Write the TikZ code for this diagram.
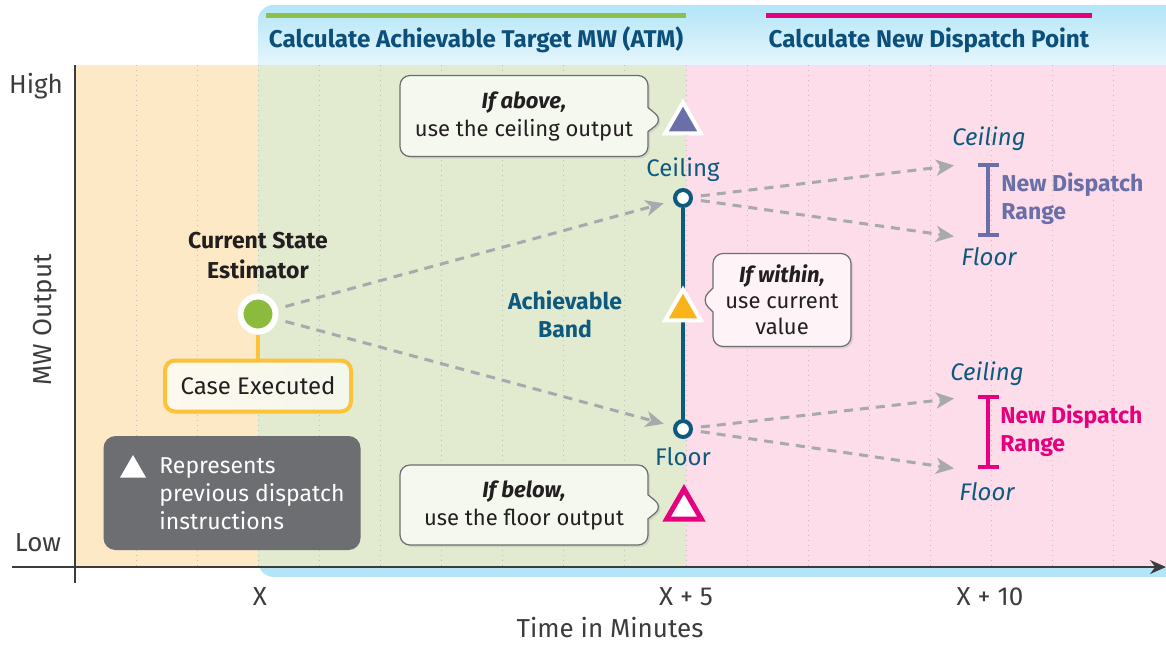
\documentclass[tikz,border=0pt]{standalone}
\usepackage{fontspec}
\setmainfont{Fira Sans}
\usepackage{xcolor}
\usepackage{tikz}
\usetikzlibrary{shapes, shapes.callouts, arrows.meta, positioning, calc, shadows}

\definecolor{headblue}{HTML}{0B4F7A}
\definecolor{skyblue}{HTML}{B3E5F8}
\definecolor{skypale}{HTML}{E6F6FC}
\definecolor{zoneorange}{HTML}{FDE9C5}
\definecolor{zonegreen}{HTML}{E2EBD0}
\definecolor{zonepink}{HTML}{FCDDE9}
\definecolor{bargreen}{HTML}{8DC04A}
\definecolor{dispink}{HTML}{E6007E}
\definecolor{bandblue}{HTML}{0E5A7F}
\definecolor{slate}{HTML}{6B6FA8}
\definecolor{triorange}{HTML}{F9B31B}
\definecolor{csegreen}{HTML}{8CBA3C}
\definecolor{caseorange}{HTML}{FBC23A}
\definecolor{legendgray}{HTML}{6D6E71}
\definecolor{flowgray}{HTML}{A7A9AC}
\definecolor{axisgray}{HTML}{3C3C3C}
\definecolor{textdark}{HTML}{231F20}
\definecolor{calgreen}{HTML}{F5F8EE}
\definecolor{calpink}{HTML}{FEF3F7}

\tikzset{
    base/.style={font=\fontsize{11}{14}\selectfont, align=center, inner sep=0pt, text=textdark},
    header/.style={base, font=\fontsize{12.1}{14}\selectfont\bfseries, text=headblue},
    axislabel/.style={base, font=\fontsize{13}{15}\selectfont, text=axisgray},
    title/.style={base, font=\fontsize{11.5}{15}\selectfont\bfseries},
    callbox/.style={base, rectangle callout, rounded corners=5pt, draw=legendgray, line width=0.6pt, fill=#1, callout pointer width=12pt, drop shadow={opacity=0.2, shadow xshift=1pt, shadow yshift=-1pt}},
    tri/.style={regular polygon, regular polygon sides=3, minimum size=20.5pt, inner sep=0pt, draw=white, line width=2pt, fill=#1, drop shadow={opacity=0.25, shadow xshift=0.8pt, shadow yshift=-0.8pt}},
    keytri/.style={regular polygon, regular polygon sides=3, minimum size=15pt, inner sep=0pt, fill=white},
    cse/.style={circle, fill=csegreen, draw=white, line width=3pt, minimum size=17.5pt, inner sep=0pt, drop shadow={opacity=0.3, shadow xshift=0.8pt, shadow yshift=-0.8pt}},
    casebox/.style={base, font=\fontsize{12}{14}\selectfont, rounded corners=5pt, draw=caseorange, line width=2pt, left color=zoneorange!30!white, right color=zonegreen!40!white, minimum width=93pt, minimum height=25.5pt},
    legendbox/.style={rectangle, rounded corners=6pt, fill=legendgray, minimum width=128.5pt, minimum height=57pt, inner sep=0pt},
    legendtext/.style={base, font=\fontsize{11.5}{14}\selectfont, align=left, text=white},
    endpoint/.style={circle, draw=bandblue, fill=white, line width=2pt, minimum size=8pt, inner sep=0pt},
    bandtag/.style={base, font=\fontsize{12}{14}\selectfont, text=bandblue},
    bandtitle/.style={base, font=\fontsize{11.5}{14}\selectfont\bfseries, text=bandblue},
    flow/.style={draw=flowgray, line width=1.5pt, dash pattern=on 4.5pt off 3.5pt, -{Stealth[length=9pt, width=8pt, inset=2.5pt]}, shorten <=4pt, shorten >=2pt},
    rangebar/.style={line width=2pt, {Bar[width=10.5pt]}-{Bar[width=10.5pt]}},
    rangetext/.style={base, font=\fontsize{11.5}{14}\selectfont\bfseries, align=left, anchor=west},
    tag/.style={base, font=\fontsize{12}{14}\selectfont\itshape, text=bandblue},
    gridline/.style={draw=gray!50, dotted, line width=0.5pt}
}

\begin{document}
\begin{tikzpicture}[x=0.5pt, y=-0.5pt, node distance=6pt]
    \useasboundingbox (0,0) rectangle (1166,644);
    \clip (0,0) rectangle (1166,644);

    % backdrop and zones
    \begin{scope}
        \clip[rounded corners=8pt] (258,5) rectangle (1200,577);
        \fill[skyblue] (258,5) rectangle (1200,577);
        \shade[top color=skyblue, bottom color=skypale] (258,5) rectangle (1200,65);
    \end{scope}
    \fill[zoneorange] (75,65) rectangle (258,567);
    \fill[zonegreen] (258,65) rectangle (686,567);
    \fill[zonepink] (686,65) rectangle (1166,567);
    \foreach \k in {1,...,17}
        \draw[gridline] ({75+61.1*\k},65) -- ({75+61.1*\k},567);

    % headers
    \draw[bargreen, line width=2.5pt] (266,15) -- (686,15);
    \draw[dispink, line width=2.5pt] (766,15) -- (1092,15);
    \node[header] (atmhead) at (476,40) {Calculate Achievable Target MW (ATM)};
    \node[header] (ndphead) at (929,40) {Calculate New Dispatch Point};

    % axes
    \draw[axisgray, line width=0.8pt] (75,65) -- (75,583);
    \draw[axisgray, line width=0.8pt, -{Stealth[length=8pt, width=7pt]}] (12,567) -- (1166,567);
    \node[axislabel] (high) at (36,86) {High};
    \node[axislabel] (low) at (38,543) {Low};
    \node[axislabel, rotate=90] (mwout) at (45,320) {MW Output};
    \node[axislabel] (tx) at (260,597) {X};
    \node[axislabel] (tx5) at (686,597) {X + 5};
    \node[axislabel] (tx10) at (990,597) {X + 10};
    \node[axislabel] (tmin) at (610,628) {Time in Minutes};

    % estimator
    \node[cse] (cse) at (258,314) {};
    \node[title, above=7pt of cse] (csetitle) {Current State\\Estimator};
    \node[casebox, below=12pt of cse] (case) {Case Executed};
    \draw[caseorange, line width=2pt] (cse) -- (case);

    % legend
    \node[legendbox] (legend) at (232,493) {};
    \node[keytri] (keytri) at (133,470) {};
    \node[legendtext, anchor=west] (legtext) at (159,494) {Represents\\previous dispatch\\instructions};

    % achievable band
    \node[endpoint] (ceil) at (683,198) {};
    \node[endpoint] (floor) at (683,429) {};
    \draw[bandblue, line width=2pt] (ceil) -- (floor);
    \node[bandtag, above=3pt of ceil] (ceiltag) {Ceiling};
    \node[bandtag, below=4pt of floor] (floortag) {Floor};
    \node[bandtitle] (band) at (565,314) {Achievable\\Band};

    \draw[flow, shorten >=5pt] (cse) -- (ceil);
    \draw[flow, shorten >=5pt] (cse) -- (floor);

    % previous dispatch markers
    \node[tri=slate] (hightri) at (683,123) {};
    \node[tri=triorange] (midtri) at (683,310) {};
    \node[tri=white, draw=dispink, line width=2.5pt, minimum size=20pt] (lowtri) at (684,509) {};

    \coordinate (hightip) at ($(hightri.center)+(-10pt,1.5pt)$);
    \coordinate (midtip) at ($(midtri.center)+(9pt,5pt)$);
    \coordinate (lowtip) at ($(lowtri.center)+(-10.5pt,1pt)$);
    \node[callbox=calgreen, minimum width=124pt, minimum height=40.5pt, callout absolute pointer=(hightip)] (abovebox) at (524,116) {\textbf{\textit{If above,}}\\use the ceiling output};
    \node[callbox=calpink, minimum width=69pt, minimum height=46.5pt, font=\fontsize{11}{13}\selectfont, callout absolute pointer=(midtip)] (withinbox) at (782,300) {\textbf{\textit{If within,}}\\use current\\value};
    \node[callbox=calgreen, minimum width=124pt, minimum height=40pt, callout absolute pointer=(lowtip)] (belowbox) at (524,505) {\textbf{\textit{If below,}}\\use the floor output};

    % new dispatch ranges
    \coordinate (hitop) at (988,163);
    \coordinate (hibot) at (988,237);
    \coordinate (lotop) at (988,395);
    \coordinate (lobot) at (988,469);
    \coordinate (hiup) at (958,165);
    \coordinate (hidown) at (958,237);
    \coordinate (loup) at (958,398);
    \coordinate (lodown) at (958,469);
    \draw[rangebar, slate] (hitop) -- (hibot);
    \draw[rangebar, dispink] (lotop) -- (lobot);
    \draw[flow] (ceil) -- (hiup);
    \draw[flow] (ceil) -- (hidown);
    \draw[flow] (floor) -- (loup);
    \draw[flow] (floor) -- (lodown);

    \node[tag] (hiceil) at (989,139) {Ceiling};
    \node[tag] (hifloor) at (989,257) {Floor};
    \node[tag] (loceil) at (987,374) {Ceiling};
    \node[tag] (lofloor) at (987,492) {Floor};
    \node[rangetext, text=slate] (hirange) at (1001,199) {New Dispatch\\Range};
    \node[rangetext, text=dispink] (lorange) at (1000,431) {New Dispatch\\Range};
\end{tikzpicture}
\end{document}
